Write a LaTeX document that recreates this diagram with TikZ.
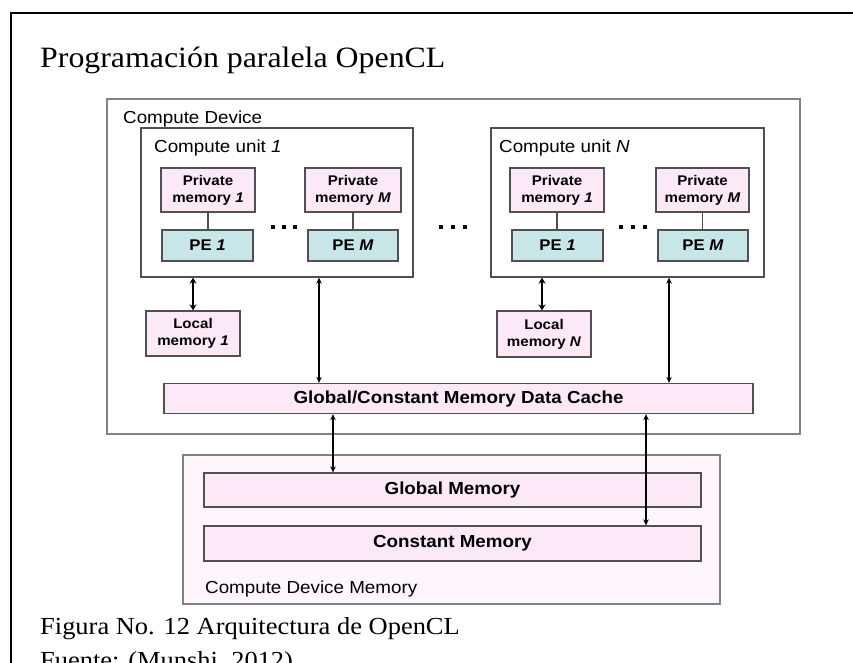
\documentclass[tikz,border=0pt]{standalone}
\usepackage{fontspec}
\setmainfont{Liberation Serif}[FakeStretch=1.08]
\newfontfamily\diagfont{Liberation Sans}[FakeStretch=1.08]
\usetikzlibrary{arrows.meta}
\definecolor{framegray}{RGB}{130,130,130}
\definecolor{boxline}{RGB}{80,80,80}
\definecolor{memfill}{RGB}{252,233,248}
\definecolor{pefill}{RGB}{200,229,231}
\definecolor{devmemfill}{RGB}{255,245,252}
\begin{document}
\begin{tikzpicture}[x=1pt,y=-1pt,
  lbl/.style={font=\diagfont\fontsize{17.4}{20}\selectfont, inner sep=0pt, anchor=base west},
  serifcap/.style={inner sep=0pt, anchor=base west},
  container/.style={draw=framegray, line width=1.4pt, fill=white, inner sep=0pt},
  unitbox/.style={draw=boxline, line width=1.3pt, fill=white, inner sep=0pt},
  membox/.style={draw=boxline, line width=1.3pt, fill=memfill, inner sep=0pt, align=center,
    font=\diagfont\bfseries\fontsize{14}{17}\selectfont},
  pebox/.style={draw=boxline, line width=1.3pt, fill=pefill, inner sep=0pt,
    font=\diagfont\bfseries\fontsize{15.5}{18}\selectfont},
  widebox/.style={draw=boxline, line width=1.3pt, fill=memfill, inner sep=0pt,
    font=\diagfont\bfseries\fontsize{17.4}{20}\selectfont},
  link/.style={line width=1.3pt, boxline},
  dbl/.style={{Stealth[length=6pt,width=5.5pt]}-{Stealth[length=6pt,width=5.5pt]}, line width=1.4pt},
  dblthick/.style={{Stealth[length=6pt,width=7pt]}-{Stealth[length=6pt,width=7pt]}, line width=2.4pt},
  dot/.style={fill=black}
]
\useasboundingbox (0,0) rectangle (853,662);
\fill[white] (0,0) rectangle (853,662);

% page frame
\draw[line width=2.3pt] (853,13) -- (11,13) -- (11,670);

% headings
\node[serifcap, font=\fontsize{29.5}{34}\selectfont] (title) at (40,67) {Programación paralela OpenCL};
\node[serifcap, font=\fontsize{24.5}{30}\selectfont] (cap1) at (40,634) {Figura No. 12 Arquitectura de OpenCL};
\node[serifcap, font=\fontsize{24.5}{30}\selectfont] (cap2) at (40,668) {Fuente: (Munshi, 2012)};

% compute device
\node[container, minimum width=693pt, minimum height=335pt] (cdev) at (453.5,266.5) {};
\node[lbl] (cdevlbl) at (123,123) {Compute Device};

% compute units
\node[unitbox, minimum width=272pt, minimum height=149pt] (cu1) at (277,202.5) {};
\node[lbl] (cu1lbl) at (154,152) {Compute unit \textit{1}};
\node[unitbox, minimum width=273pt, minimum height=149pt] (cuN) at (627.5,202.5) {};
\node[lbl] (cuNlbl) at (499,152) {Compute unit \textit{N}};

% private memories and processing elements
\node[membox, minimum width=94pt, minimum height=44pt] (pm11) at (208,190) {Private\\memory \textit{1}};
\node[pebox, minimum width=91pt, minimum height=31pt] (pe11) at (207.5,245.5) {PE \textit{1}};
\node[membox, minimum width=96pt, minimum height=44pt] (pm1M) at (353,190) {Private\\memory \textit{M}};
\node[pebox, minimum width=90pt, minimum height=31pt] (pe1M) at (353,245.5) {PE \textit{M}};
\node[membox, minimum width=94pt, minimum height=44pt] (pmN1) at (557,190) {Private\\memory \textit{1}};
\node[pebox, minimum width=91pt, minimum height=31pt] (peN1) at (557.5,245.5) {PE \textit{1}};
\node[membox, minimum width=93pt, minimum height=44pt] (pmNM) at (702.5,190) {Private\\memory \textit{M}};
\node[pebox, minimum width=90pt, minimum height=31pt] (peNM) at (703,245.5) {PE \textit{M}};

\draw[link] (pm11.south) -- (pm11.south |- pe11.north);
\draw[link] (pm1M.south) -- (pm1M.south |- pe1M.north);
\draw[link] (pmN1.south) -- (pmN1.south |- peN1.north);
\draw[link] (pmNM.south) -- (pmNM.south |- peNM.north);

% ellipses
\foreach \x in {273,284,295, 441,453,465, 621,633,645}
  \fill[dot] (\x-1.8,225.2) rectangle (\x+1.8,228.8);

% local memories
\node[membox, minimum width=94pt, minimum height=45pt] (lm1) at (193,333.5) {Local\\memory \textit{1}};
\node[membox, minimum width=94pt, minimum height=46pt] (lmN) at (544,334) {Local\\memory \textit{N}};

% data cache
\node[widebox, minimum width=589pt, minimum height=30pt] (cache) at (458.5,398.5) {Global/Constant Memory Data Cache};

% compute device memory
\node[container, fill=devmemfill, minimum width=537pt, minimum height=149pt] (cdm) at (451.5,529.5) {};
\node[widebox, minimum width=497pt, minimum height=34pt] (gm) at (452.5,490) {Global Memory};
\node[widebox, minimum width=497pt, minimum height=35pt] (cm) at (452.5,543.5) {Constant Memory};
\node[lbl] (cdmlbl) at (205,593) {Compute Device Memory};

% data paths
\draw[dblthick] (lm1.north) -- (lm1.north |- cu1.south);
\draw[dblthick] (542,0 |- lmN.north) -- (542,0 |- cuN.south);
\draw[dbl] (319,0 |- cu1.south) -- (319,0 |- cache.north);
\draw[dbl] (669,0 |- cuN.south) -- (669,0 |- cache.north);
\draw[dbl] (333,0 |- cache.south) -- (333,0 |- gm.north);
\draw[dbl] (646,0 |- cache.south) -- (646,0 |- cm.north);
\end{tikzpicture}
\end{document}
